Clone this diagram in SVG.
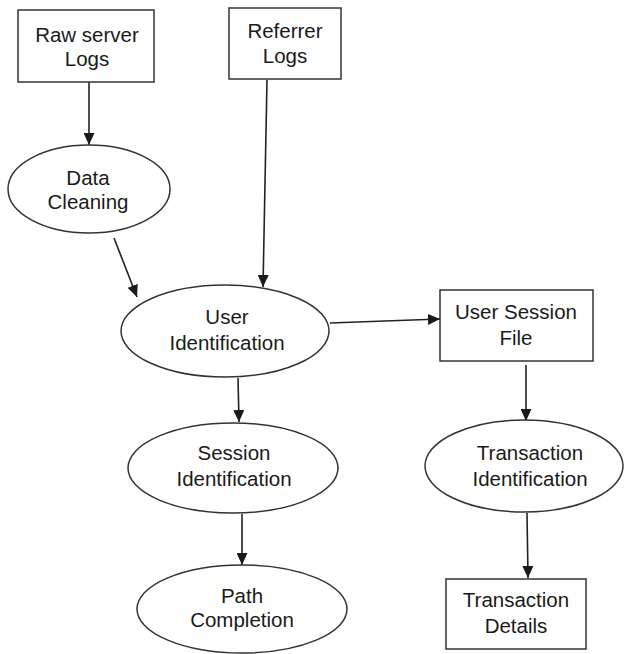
<svg xmlns="http://www.w3.org/2000/svg" width="634" height="654" viewBox="0 0 634 654">
<defs>
<marker id="ah" markerUnits="userSpaceOnUse" markerWidth="12" markerHeight="11" refX="12" refY="5.5" orient="auto">
<path d="M0,0 L12,5.5 L0,11 z" fill="#1a1a1a"/>
</marker>
<style>
.n{fill:#fff;stroke:#333;stroke-width:1.5}
.t{font-family:"Liberation Sans",Arial,sans-serif;font-size:20.5px;fill:#1a1a1a;text-anchor:middle}
.c{stroke:#222;stroke-width:1.6;fill:none;marker-end:url(#ah)}
</style>
</defs>
<rect width="634" height="654" fill="#fff"/>
<g id="connectors">
<line class="c" x1="89" y1="82" x2="89" y2="145"/>
<line class="c" x1="267" y1="80" x2="263" y2="287"/>
<line class="c" x1="114" y1="238" x2="137" y2="297"/>
<line class="c" x1="330" y1="323" x2="440" y2="319"/>
<line class="c" x1="238" y1="378" x2="239" y2="422"/>
<line class="c" x1="242" y1="514" x2="242" y2="565"/>
<line class="c" x1="526" y1="365" x2="526" y2="421"/>
<line class="c" x1="527" y1="513" x2="528" y2="578"/>
</g>
<g id="raw-server-logs">
<rect class="n" x="18" y="10" width="136" height="72"/>
<text class="t" x="87" y="42">Raw server</text>
<text class="t" x="87" y="66">Logs</text>
</g>
<g id="referrer-logs">
<rect class="n" x="229" y="8" width="112" height="71"/>
<text class="t" x="285" y="38">Referrer</text>
<text class="t" x="285" y="63">Logs</text>
</g>
<g id="data-cleaning">
<ellipse class="n" cx="89" cy="189" rx="81" ry="44"/>
<text class="t" x="88" y="185">Data</text>
<text class="t" x="88" y="209">Cleaning</text>
</g>
<g id="user-identification">
<ellipse class="n" cx="225" cy="331" rx="104" ry="46"/>
<text class="t" x="227" y="324">User</text>
<text class="t" x="227" y="350">Identification</text>
</g>
<g id="user-session-file">
<rect class="n" x="440" y="290" width="153" height="71"/>
<text class="t" x="516" y="319">User Session</text>
<text class="t" x="516" y="345">File</text>
</g>
<g id="session-identification">
<ellipse class="n" cx="233" cy="468" rx="105" ry="45"/>
<text class="t" x="234" y="460">Session</text>
<text class="t" x="234" y="486">Identification</text>
</g>
<g id="path-completion">
<ellipse class="n" cx="242" cy="609" rx="105" ry="44"/>
<text class="t" x="242" y="603">Path</text>
<text class="t" x="242" y="627">Completion</text>
</g>
<g id="transaction-identification">
<ellipse class="n" cx="524" cy="466" rx="99" ry="46"/>
<text class="t" x="530" y="460">Transaction</text>
<text class="t" x="530" y="486">Identification</text>
</g>
<g id="transaction-details">
<rect class="n" x="446" y="579" width="140" height="70"/>
<text class="t" x="516" y="607">Transaction</text>
<text class="t" x="516" y="633">Details</text>
</g>
</svg>
